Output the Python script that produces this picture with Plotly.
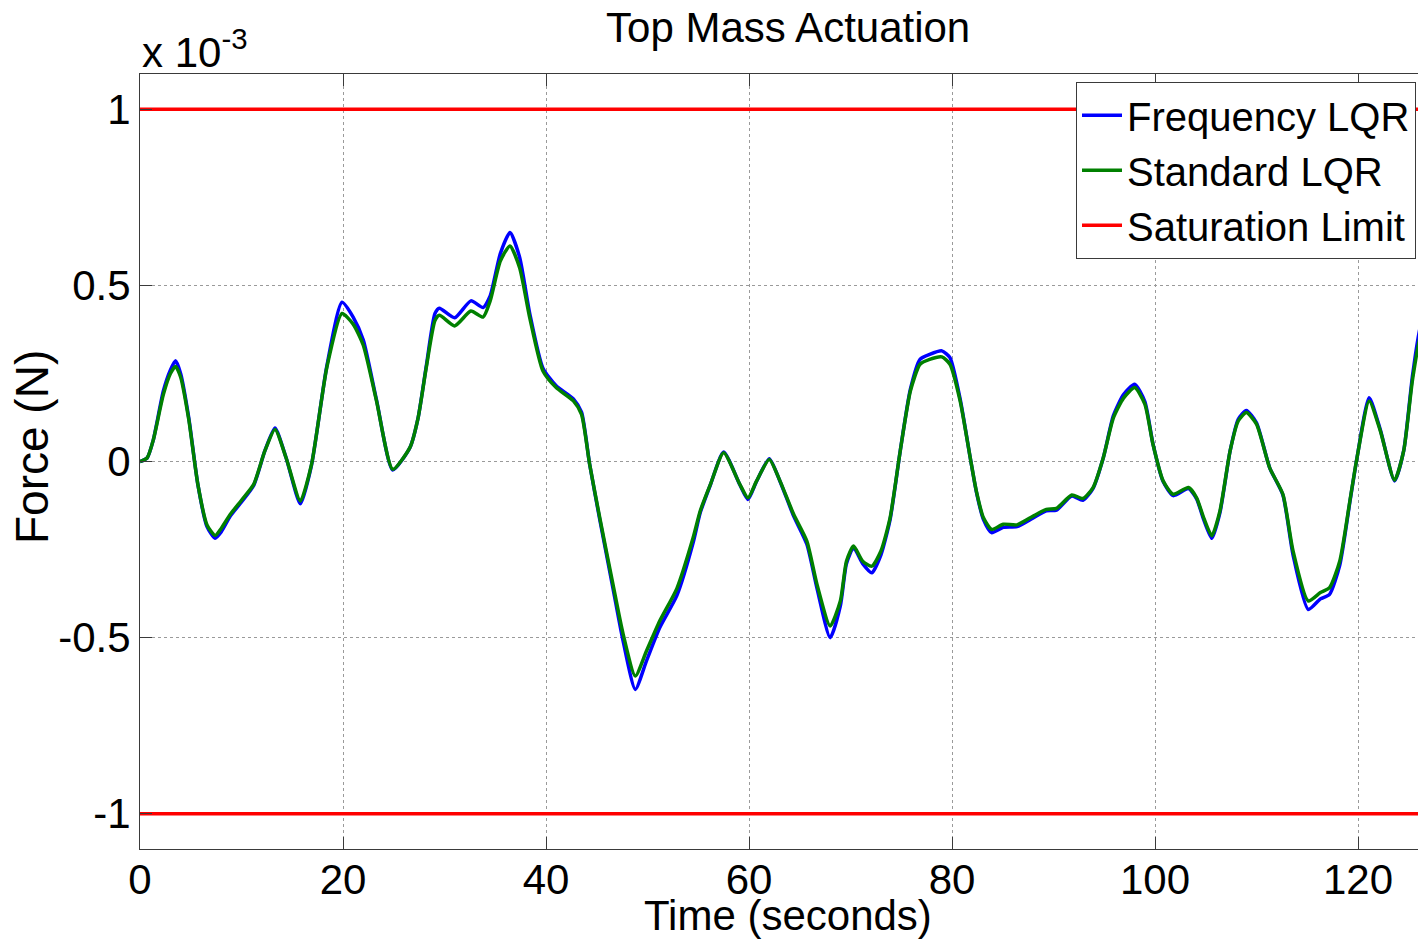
import plotly.graph_objects as go

# force in units of 1e-3 N
time_s = [
    0.0, 0.7, 1.3, 2.3, 3.0, 3.5, 4.0, 4.8, 5.7, 6.6, 7.4, 8.0, 8.9, 10.0, 11.2,
    12.3, 13.3, 14.4, 15.8, 16.9, 18.4, 19.9, 21.0, 22.0, 23.3, 24.9, 26.6, 27.4,
    28.2, 29.06, 29.5, 31.0, 32.6, 33.8, 34.5, 35.5, 36.45, 37.4, 38.4, 39.7, 41.0,
    42.7, 43.5, 44.3, 45.3, 46.6, 47.6, 48.8, 49.9, 51.2, 52.9, 54.5, 55.2, 56.2,
    57.5, 59.1, 59.9, 60.75, 62.0, 63.05, 64.4, 65.7, 66.7, 68.0, 69.0, 69.6, 70.3,
    71.2, 72.1, 73.0, 73.9, 74.9, 75.9, 76.85, 77.8, 79.0, 79.8, 80.8, 81.8, 82.4,
    83.1, 83.9, 85.05, 86.4, 88.0, 89.3, 90.3, 91.8, 92.9, 93.9, 94.9, 95.9, 96.9,
    98.0, 99.0, 99.8, 100.8, 101.8, 103.3, 104.1, 104.8, 105.6, 106.4, 107.4, 108.2,
    109.0, 110.0, 111.3, 112.6, 113.6, 115.1, 116.3, 117.2, 118.2, 119.2, 119.9,
    121.1, 122.2, 123.6, 124.5, 125.4, 126.4, 127.5,
]

standard_lqr = [
    0.0, 0.01, 0.06, 0.19, 0.25, 0.27, 0.24, 0.12, -0.065, -0.18, -0.21, -0.19, -0.15,
    -0.11, -0.065, 0.03, 0.091, 0.01, -0.112, -0.008, 0.266, 0.42, 0.39, 0.33, 0.172,
    -0.022, 0.04, 0.124, 0.266, 0.40, 0.415, 0.385, 0.427, 0.41, 0.456, 0.569, 0.612,
    0.55, 0.408, 0.257, 0.21, 0.172, 0.134, -0.008, -0.16, -0.349, -0.49, -0.609,
    -0.538, -0.453, -0.36, -0.216, -0.14, -0.065, 0.025, -0.065, -0.103, -0.055,
    0.006, -0.055, -0.15, -0.226, -0.349, -0.467, -0.396, -0.283, -0.24, -0.283,
    -0.297, -0.254, -0.16, 0.03, 0.2, 0.276, 0.29, 0.297, 0.276, 0.172, 0.01, -0.084,
    -0.16, -0.193, -0.178, -0.18, -0.155, -0.136, -0.133, -0.095, -0.105, -0.074,
    0.01, 0.124, 0.18, 0.21, 0.163, 0.049, -0.055, -0.093, -0.074, -0.103, -0.16,
    -0.211, -0.14, 0.03, 0.115, 0.139, 0.106, -0.018, -0.093, -0.254, -0.396, -0.372,
    -0.358, -0.283, -0.112, 0.01, 0.172, 0.087, -0.053, 0.03, 0.238, 0.38, 0.40,
]

frequency_lqr = [
    0.0, 0.01, 0.06, 0.20, 0.26, 0.286, 0.25, 0.125, -0.065, -0.185, -0.218, -0.20,
    -0.155, -0.115, -0.068, 0.03, 0.095, 0.01, -0.12, -0.01, 0.27, 0.452, 0.41, 0.345,
    0.175, -0.024, 0.04, 0.124, 0.27, 0.42, 0.435, 0.408, 0.456, 0.437, 0.47, 0.59,
    0.65, 0.58, 0.42, 0.265, 0.215, 0.178, 0.14, -0.008, -0.165, -0.36, -0.51, -0.647,
    -0.566, -0.472, -0.38, -0.23, -0.145, -0.066, 0.027, -0.066, -0.108, -0.056, 0.008,
    -0.056, -0.155, -0.235, -0.36, -0.5, -0.41, -0.29, -0.245, -0.29, -0.316, -0.265,
    -0.165, 0.03, 0.205, 0.29, 0.304, 0.314, 0.295, 0.178, 0.01, -0.086, -0.165,
    -0.202, -0.187, -0.185, -0.16, -0.14, -0.138, -0.098, -0.11, -0.076, 0.01, 0.13,
    0.19, 0.219, 0.17, 0.05, -0.057, -0.097, -0.077, -0.106, -0.165, -0.218, -0.145,
    0.03, 0.12, 0.145, 0.11, -0.018, -0.095, -0.265, -0.42, -0.39, -0.377, -0.295,
    -0.115, 0.01, 0.181, 0.09, -0.055, 0.03, 0.25, 0.408, 0.43,
]

saturation_limit = 1.0

x_ticks = [0, 20, 40, 60, 80, 100, 120]
y_ticks = [-1, -0.5, 0, 0.5, 1]
y_tick_text = ["-1", "-0.5", "0", "0.5", "1"]

FONT = "Liberation Sans, Arial, sans-serif"
AXIS_COLOR = "#3a3a3a"
GRID_COLOR = "#9a9a9a"

# the page body adds an 8px margin, so the figure is 8px smaller each way
W, H = 1418, 932
L, T, B = 132, 66, 91
PW, PH = W - L, H - T - B

fig = go.Figure()
fig.add_trace(
    go.Scatter(
        x=time_s, y=frequency_lqr, mode="lines", name="Frequency LQR",
        line=dict(color="#0000ff", width=3.5, shape="spline", smoothing=0.6),
    )
)
fig.add_trace(
    go.Scatter(
        x=time_s, y=standard_lqr, mode="lines", name="Standard LQR",
        line=dict(color="#008000", width=3.5, shape="spline", smoothing=0.6),
    )
)
t_end = [time_s[0], time_s[-1]]
fig.add_trace(
    go.Scatter(
        x=t_end + [None] + t_end,
        y=[saturation_limit] * 2 + [None] + [-saturation_limit] * 2,
        mode="lines", name="Saturation Limit",
        line=dict(color="#ff0000", width=3.5),
    )
)

fig.update_layout(
    width=W,
    height=H,
    margin=dict(l=L, r=0, t=T, b=B),
    paper_bgcolor="white",
    plot_bgcolor="white",
    font=dict(family=FONT, size=42, color="black"),
    title=dict(
        text="Top Mass Actuation", xref="paper", x=0.504, xanchor="center",
        yref="container", y=1 - 19 / H, yanchor="middle", font=dict(size=42),
    ),
    showlegend=True,
    legend=dict(
        x=(1068 - L) / PW, xanchor="left", y=0.99, yanchor="top",
        bgcolor="white", bordercolor=AXIS_COLOR, borderwidth=1,
        font=dict(size=40), itemwidth=40, tracegroupgap=0,
    ),
)

fig.update_xaxes(
    range=[0, 126.7],
    tickvals=x_ticks,
    ticks="inside", ticklen=12, tickcolor=AXIS_COLOR,
    showline=True, linecolor=AXIS_COLOR, linewidth=1, mirror="ticks",
    showgrid=True, gridcolor=GRID_COLOR, griddash="dot", gridwidth=1,
    zeroline=False, ticklabelstandoff=-6,
)
fig.update_yaxes(
    range=[-1.1, 1.1],
    tickvals=y_ticks, ticktext=y_tick_text,
    ticks="inside", ticklen=12, tickcolor=AXIS_COLOR,
    showline=True, linecolor=AXIS_COLOR, linewidth=1,
    showgrid=True, gridcolor=GRID_COLOR, griddash="dot", gridwidth=1,
    zeroline=False, ticklabelstandoff=0,
)

fig.add_annotation(
    text="Time (seconds)", xref="paper", yref="paper",
    x=0.504, y=(PH - 907 + T) / PH, xanchor="center", yanchor="middle",
    showarrow=False, font=dict(size=42),
)
fig.add_annotation(
    text="Force (N)", textangle=-90, xref="paper", yref="paper",
    x=-(L - 24) / PW, y=(PH - 439 + T) / PH, xanchor="center", yanchor="middle",
    showarrow=False, font=dict(size=46),
)
fig.add_annotation(
    text="x 10<sup>-3</sup>", xref="paper", yref="paper",
    x=0, y=1, xanchor="left", yanchor="bottom", yshift=-4,
    showarrow=False, font=dict(size=42),
)

fig.write_html("out.html")
